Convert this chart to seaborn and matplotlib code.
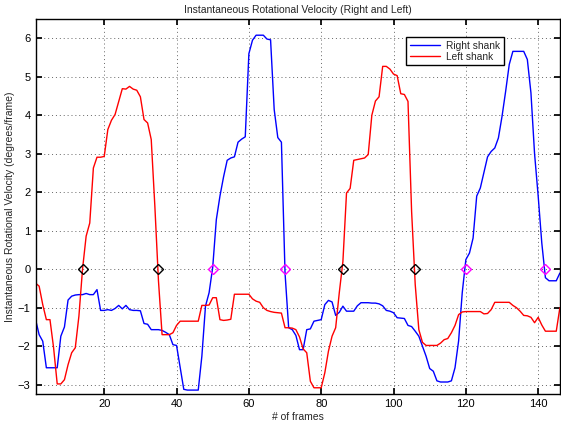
import numpy as np
import pandas as pd
import matplotlib
matplotlib.use('Agg')
import matplotlib.pyplot as plt
import seaborn as sns

# frames 1..146
frames = np.arange(1, 147)

right_shank = [
    -1.30, -1.70, -1.87, -2.56, -2.56, -2.56, -2.56, -1.74, -1.50, -0.80,
    -0.70, -0.67, -0.66, -0.66, -0.63, -0.66, -0.66, -0.53, -1.07, -1.07,
    -1.05, -1.07, -1.02, -0.94, -1.03, -0.94, -1.05, -1.07, -1.07, -1.08,
    -1.41, -1.43, -1.57, -1.57, -1.57, -1.59, -1.64, -1.70, -1.96, -1.98,
    -2.55, -3.12, -3.14, -3.14, -3.14, -3.14, -2.26, -0.96, -0.61, 0.05,
    1.29, 1.90, 2.40, 2.83, 2.89, 2.92, 3.30, 3.38, 3.44, 5.60,
    5.95, 6.08, 6.08, 6.08, 5.98, 5.96, 4.15, 3.42, 3.30, -0.10,
    -1.52, -1.57, -1.72, -2.09, -2.09, -1.57, -1.55, -1.35, -1.33, -1.31,
    -0.92, -0.81, -0.85, -1.20, -1.12, -0.96, -1.09, -1.09, -1.09, -0.95,
    -0.87, -0.87, -0.87, -0.88, -0.88, -0.90, -0.95, -1.07, -1.09, -1.13,
    -1.26, -1.27, -1.28, -1.46, -1.49, -1.61, -1.74, -2.00, -2.26, -2.58,
    -2.65, -2.90, -2.93, -2.93, -2.93, -2.90, -2.56, -1.86, -0.61, 0.25,
    0.42, 0.81, 1.90, 2.11, 2.52, 2.92, 3.06, 3.15, 3.41, 3.97,
    4.62, 5.32, 5.66, 5.66, 5.66, 5.66, 5.45, 4.58, 3.00, 1.90,
    0.68, -0.22, -0.30, -0.30, -0.30, -0.10,
]

left_shank = [
    -0.36, -0.44, -0.92, -1.31, -1.31, -2.04, -2.98, -2.98, -2.87, -2.48,
    -2.17, -2.04, -1.22, 0.00, 0.86, 1.20, 2.63, 2.91, 2.91, 2.93,
    3.63, 3.87, 4.02, 4.36, 4.69, 4.68, 4.75, 4.68, 4.65, 4.48,
    3.89, 3.80, 3.37, 1.64, -0.30, -1.70, -1.70, -1.70, -1.65, -1.46,
    -1.35, -1.35, -1.35, -1.35, -1.35, -1.35, -0.94, -0.94, -0.93, -0.74,
    -0.74, -1.31, -1.33, -1.32, -1.30, -0.65, -0.65, -0.65, -0.65, -0.65,
    -0.77, -0.83, -0.86, -1.00, -1.07, -1.10, -1.12, -1.13, -1.14, -1.52,
    -1.52, -1.53, -1.57, -1.76, -2.07, -2.17, -2.91, -3.08, -3.08, -3.08,
    -2.69, -2.13, -1.74, -1.52, -0.61, 0.20, 1.98, 2.10, 2.83, 2.85,
    2.87, 2.89, 2.98, 4.00, 4.37, 4.48, 5.27, 5.27, 5.20, 5.07,
    5.03, 4.56, 4.54, 4.36, 1.50, -0.40, -1.57, -1.90, -1.98, -1.98,
    -1.98, -1.98, -1.92, -1.83, -1.80, -1.65, -1.46, -1.18, -1.11, -1.10,
    -1.10, -1.10, -1.10, -1.10, -1.16, -1.15, -1.05, -0.86, -0.86, -0.86,
    -0.86, -0.86, -0.94, -1.00, -1.09, -1.20, -1.21, -1.25, -1.39, -1.25,
    -1.45, -1.61, -1.61, -1.61, -1.61, -1.00,
]

# zero crossings marked on the chart
left_cross = [14, 35, 86, 106]
right_cross = [50, 70, 120, 142]

df = pd.DataFrame({'frame': np.concatenate([frames, frames]),
                   'velocity': right_shank + left_shank,
                   'side': ['Right shank'] * len(frames) + ['Left shank'] * len(frames)})

sns.set_theme(style='white')
plt.rcParams['font.family'] = ['Liberation Sans', 'DejaVu Sans']

fig = plt.figure(figsize=(5.61, 4.23), dpi=100)
ax = fig.add_axes([0.0633, 0.0678, 0.9347, 0.8872])

sns.lineplot(data=df, x='frame', y='velocity', hue='side',
             palette={'Right shank': '#0000ff', 'Left shank': '#ff0000'},
             linewidth=1, ax=ax)

ax.plot(left_cross, [0] * len(left_cross), 'D', mfc='none', mec='black', ms=5, mew=1)
ax.plot(right_cross, [0] * len(right_cross), 'D', mfc='none', mec='#ff00ff', ms=5, mew=1)

ax.set_xlim(1, 146)
ax.set_ylim(-3.25, 6.5)
ax.set_xticks(range(20, 141, 20))
ax.set_yticks(range(-3, 7))
ax.grid(True, linestyle=(0, (1, 3)), color='#666666', linewidth=0.7)
ax.tick_params(direction='in', length=4, labelsize=8, colors='black',
               top=True, right=True, bottom=True, left=True)
for s in ax.spines.values():
    s.set_color('black')
    s.set_linewidth(1)

ax.set_title('Instantaneous Rotational Velocity (Right and Left)', fontsize=7.5, pad=4)
ax.set_xlabel('# of frames', fontsize=7.5, labelpad=2)
ax.set_ylabel('Instantaneous Rotational Velocity (degrees/frame)', fontsize=7.5, labelpad=2)

leg = ax.legend(loc='upper right', bbox_to_anchor=(0.893, 0.952), fontsize=7.3,
                fancybox=False, edgecolor='black', framealpha=1, title=None,
                handlelength=3.0, borderaxespad=0, labelspacing=0.1,
                borderpad=0.35, handletextpad=0.6)
leg.get_frame().set_linewidth(1)

fig.savefig('out.png', dpi=100)
